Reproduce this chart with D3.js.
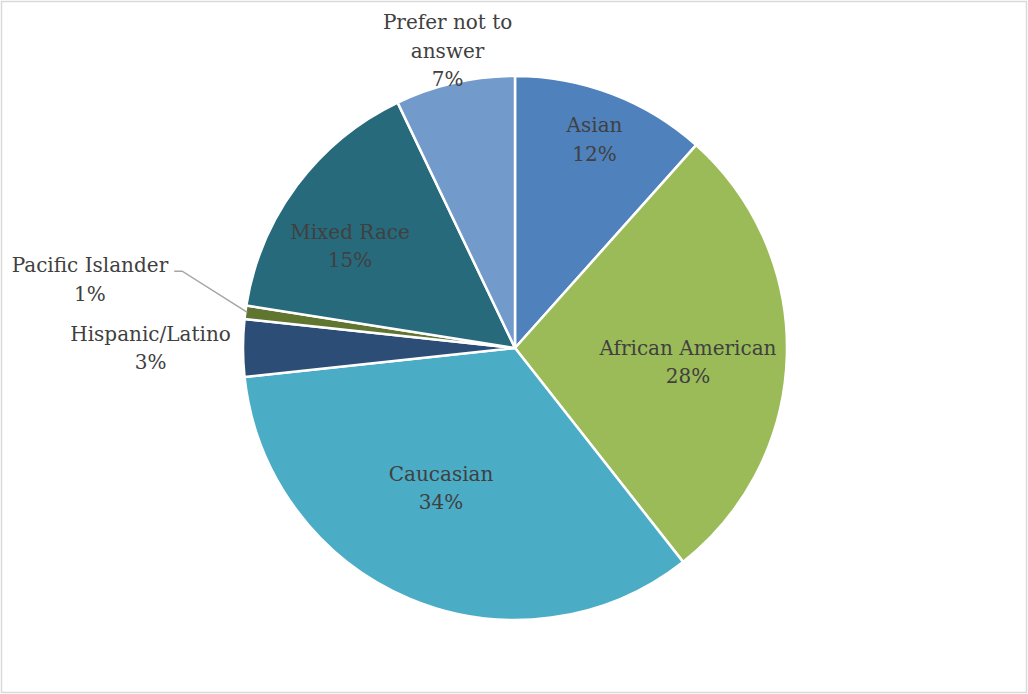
<!DOCTYPE html>
<html lang="en">
<head>
    <meta charset="UTF-8">
    <title>Pie-Chart-Race</title>
    <script type="text/javascript" src="https://d3js.org/d3.v7.min.js"></script>
    <style>
        body { margin: 0; background: #fff; }
    </style>
</head>
<body>
    <script type="text/javascript">
       // data (percent of respondents)
       var categories = ["Asian", "African American", "Caucasian", "Hispanic/Latino",
                         "Pacific Islander", "Mixed Race", "Prefer not to answer"];
       var values = [11.6, 27.8, 33.9, 3.4, 0.8, 15.4, 7.1];
       var colors = ["#4f81bd", "#9bbb59", "#4bacc6", "#2c4d75", "#5f7530", "#276a7c", "#729aca"];

       // label placement: fraction of radius, angle nudge (deg), wrapped lines
       var labelRadius = [0.82, 0.638, 0.582, 1.34, 1.583, 0.713, 1.12];
       var labelNudge = [0, 2.8, 5, 0, 1.6, -5, 0];
       var labelLines = [["Asian"], ["African American"], ["Caucasian"], ["Hispanic/Latino"],
                         ["Pacific Islander"], ["Mixed Race"], ["Prefer not to", "answer"]];

       var width = 1028, height = 694;
       var cx = 515, cy = 348, radius = 272, lineH = 28.5;

       var svg = d3.select("body")
                   .append("svg")
                   .attr("width", width)
                   .attr("height", height);

       svg.append("rect")
          .attr("x", 1.5).attr("y", 1.5)
          .attr("width", width - 3).attr("height", height - 3)
          .attr("fill", "#fff")
          .attr("stroke", "#d9d9d9")
          .attr("stroke-width", 1.5);

       var total = d3.sum(values);
       var pct = d3.format(".0%");

       var pie = d3.pie().sort(null).value(function(d){ return d; });
       var arcs = pie(values);
       var arc = d3.arc().innerRadius(0).outerRadius(radius);

       var g = svg.append("g").attr("transform", "translate(" + cx + "," + cy + ")");

       g.selectAll("path").data(arcs).enter()
        .append("path")
        .attr("d", arc)
        .attr("fill", function(d, i){ return colors[i]; })
        .attr("stroke", "#fff")
        .attr("stroke-width", 2.5)
        .attr("stroke-linejoin", "round");

       function labelPoint(d, i) {
           var a = (d.startAngle + d.endAngle) / 2 + labelNudge[i] * Math.PI / 180;
           var r = radius * labelRadius[i];
           return [Math.sin(a) * r, -Math.cos(a) * r];
       }

       var labels = g.selectAll("text.lab").data(arcs).enter()
        .append("text")
        .attr("class", "lab")
        .attr("text-anchor", "middle")
        .attr("font-family", "'DejaVu Serif', serif")
        .attr("font-size", "20px")
        .attr("fill", "#404040")
        .attr("transform", function(d, i){ return "translate(" + labelPoint(d, i) + ")"; });

       labels.each(function(d, i){
           var lines = labelLines[i].concat([pct(values[i] / total)]);
           var y0 = -(lines.length - 1) * lineH / 2;
           d3.select(this).selectAll("tspan").data(lines).enter()
             .append("tspan")
             .attr("x", 0)
             .attr("y", function(s, j){ return y0 + j * lineH; })
             .attr("dy", "0.35em")
             .text(function(s){ return s; });
       });

       // leader line for the tiny Pacific Islander slice
       var pi = categories.indexOf("Pacific Islander");
       var piArc = arcs[pi];
       var piMid = (piArc.startAngle + piArc.endAngle) / 2;
       var piLab = labelPoint(piArc, pi);
       var firstLine = labels.filter(function(d, i){ return i === pi; }).select("tspan").node();
       var half = firstLine.getComputedTextLength() / 2;
       var ly = piLab[1] - lineH / 2 + 6;
       var edge = [Math.sin(piMid) * (radius - 2), -Math.cos(piMid) * (radius - 2)];
       g.append("polyline")
        .attr("points", [[piLab[0] + half + 6, ly], [piLab[0] + half + 14, ly], edge].join(" "))
        .attr("fill", "none")
        .attr("stroke", "#a6a6a6")
        .attr("stroke-width", 1.5);
    </script>
</body>
</html>
